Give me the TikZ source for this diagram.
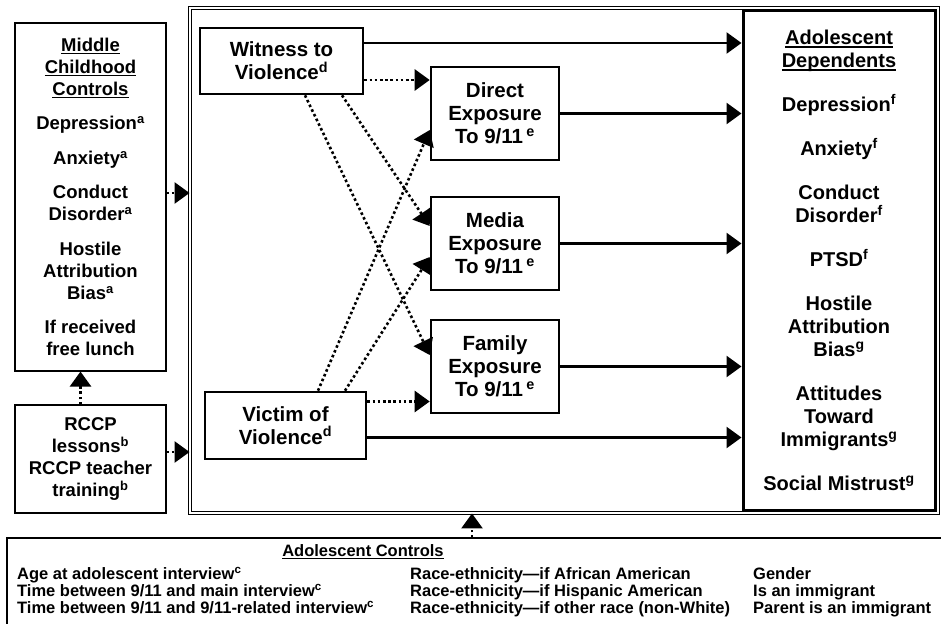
\documentclass[tikz,border=0pt]{standalone}
\usepackage{fontspec}
\setmainfont{Liberation Sans}
\usetikzlibrary{arrows.meta}
\usetikzlibrary{calc}

\newcommand{\ulabel}[1]{\mbox{\setbox0=\hbox{#1}\rlap{\rule[-3pt]{\wd0}{1.4pt}}\box0}}

\begin{document}
\begin{tikzpicture}[x=1pt,y=-1pt]%%path model
                \tikzstyle{ctrl}     = [draw, line width=1.1pt, align=center, inner sep=0pt, font=\bfseries\fontsize{18.5}{22}\selectfont]
                \tikzstyle{var}      = [draw, line width=2.6pt, align=center, inner sep=0pt, font=\bfseries\fontsize{20.5}{23}\selectfont]
                \tikzstyle{effect}   = [line width=2.6pt, -{Triangle[length=15pt,width=21pt]}]
                \tikzstyle{dotarrow} = [effect, dash pattern=on 2.6pt off 2.6pt]
                \tikzstyle{ctrltext} = [inner sep=0pt, align=left, anchor=north west, font=\bfseries\fontsize{16.5}{17}\selectfont]
                \clip (0,0) rectangle (941,623);

                \node [draw, double, double distance=1.3pt, line width=0.9pt, minimum width=748pt, minimum height=505pt, inner sep=0pt](study) at (564,260.5) {};
                \node [ctrl, minimum width=151pt, minimum height=348pt](middle) at (90.5,197)
                        {\ulabel{Middle}\\\ulabel{Childhood}\\\ulabel{Controls}\\[12.5pt]
                         Depression\textsuperscript{a}\\[12.5pt]
                         Anxiety\textsuperscript{a}\\[12.5pt]
                         Conduct\\Disorder\textsuperscript{a}\\[12.5pt]
                         Hostile\\Attribution\\Bias\textsuperscript{a}\\[12.5pt]
                         If received\\free lunch};
                \node [ctrl, minimum width=151pt, minimum height=108pt](rccp) at (90.5,459)
                        {RCCP\\lessons\textsuperscript{b}\\RCCP teacher\\training\textsuperscript{b}};
                \node [var, minimum width=163pt, minimum height=66pt](witness) at (281.5,61) {Witness to\\Violence\textsuperscript{d}};
                \node [var, minimum width=161pt, minimum height=67pt](victim) at (285.5,425.5) {Victim of\\Violence\textsuperscript{d}};
                \node [var, minimum width=128pt, minimum height=93pt](direct) at (495,113.5) {Direct\\Exposure\\To 9/11\,\textsuperscript{e}};
                \node [var, minimum width=128pt, minimum height=93pt](media) at (495,243.5) {Media\\Exposure\\To 9/11\,\textsuperscript{e}};
                \node [var, minimum width=128pt, minimum height=93pt](family) at (495,366.5) {Family\\Exposure\\To 9/11\,\textsuperscript{e}};
                \node [var, line width=3pt, minimum width=192pt, minimum height=499pt, font=\bfseries\fontsize{20}{23}\selectfont](dep) at (839,260.5)
                        {\ulabel{Adolescent}\\\ulabel{Dependents}\\[21pt]
                         Depression\textsuperscript{f}\\[21pt]
                         Anxiety\textsuperscript{f}\\[21pt]
                         Conduct\\Disorder\textsuperscript{f}\\[21pt]
                         PTSD\textsuperscript{f}\\[21pt]
                         Hostile\\Attribution\\Bias\textsuperscript{g}\\[21pt]
                         Attitudes\\Toward\\Immigrants\textsuperscript{g}\\[21pt]
                         Social Mistrust\textsuperscript{g}};
                \node [draw, line width=1.1pt, minimum width=938pt, minimum height=94pt](controls) at (476,585) {};
                \node [inner sep=0pt, font=\bfseries\fontsize{16.5}{17}\selectfont](ctrlhead) at (363,552) {\ulabel{Adolescent Controls}};
                \node [ctrltext](ctrlage) at (17,567) {Age at adolescent interview\textsuperscript{c}\\Time between 9/11 and main interview\textsuperscript{c}\\Time between 9/11 and 9/11-related interview\textsuperscript{c}};
                \node [ctrltext](ctrlrace) at (410,567) {Race-ethnicity---if African American\\Race-ethnicity---if Hispanic American\\Race-ethnicity---if other race (non-White)};
                \node [ctrltext](ctrlimm) at (753,567) {Gender\\Is an immigrant\\Parent is an immigrant};

                % solid paths to the dependents
                \draw [effect] ([yshift=18pt]witness.east) -- ([yshift=18pt]witness.east -| dep.west);
                \foreach \n in {direct,media,family}{
                        \draw [effect] (\n.east) -- (\n.east -| dep.west);
                }
                \draw [effect] ([yshift=-12pt]victim.east) -- ([yshift=-12pt]victim.east -| dep.west);

                % dotted paths to the exposures
                \draw [dotarrow] ([yshift=-19pt]witness.east) -- ([yshift=-19pt]witness.east -| direct.west);
                \draw [dotarrow] ([yshift=24pt]victim.east) -- ([yshift=24pt]victim.east -| family.west);
                \draw [dotarrow] ([xshift=23.5pt]witness.south) -- ([yshift=11.5pt]family.west);
                \draw [dotarrow] ([xshift=60.5pt]witness.south) -- ([yshift=17.5pt]media.west);
                \draw [dotarrow] ([xshift=32.5pt]victim.north) -- ([yshift=-16.5pt]direct.west);
                \draw [dotarrow] ([xshift=59.5pt]victim.north) -- ([yshift=-13.5pt]media.west);

                % controls
                \draw [dotarrow] ([yshift=4pt]middle.east) -- ([yshift=4pt]middle.east -| study.west);
                \draw [dotarrow] ([yshift=7pt]rccp.east) -- ([yshift=7pt]rccp.east -| study.west);
                \draw [dotarrow] ([xshift=-10pt]rccp.north) -- ([xshift=-10pt]rccp.north |- middle.south);
                \draw [dotarrow] ([xshift=-4pt]controls.north) -- ([xshift=-4pt]controls.north |- study.south);
\end{tikzpicture}
\end{document}
